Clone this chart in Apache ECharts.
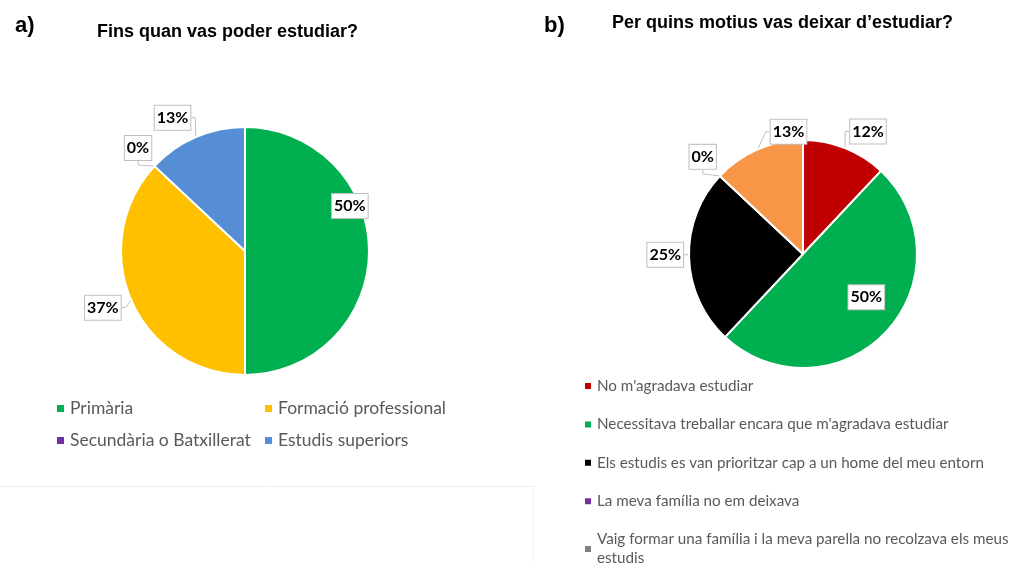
<!DOCTYPE html>
<html>
<head>
<meta charset="utf-8">
<script src="https://cdn.jsdelivr.net/npm/echarts@6/dist/echarts.min.js"></script>
<style>
html,body{margin:0;padding:0;background:#fff;}
#chart{width:1013px;height:563px;}
</style>
</head>
<body>
<div id="chart"></div>
<script>
// Chart a
const catsA = ['Primària', 'Formació professional', 'Secundària o Batxillerat', 'Estudis superiors'];
const valsA = [50, 37, 0, 13];
const colorsA = ['#00B050', '#FFC000', '#7030A0', '#558ED5'];
// Chart b
const catsB = ["No m'agradava estudiar", "Necessitava treballar encara que m'agradava estudiar", "Els estudis es van prioritzar cap a un home del meu entorn", "La meva família no em deixava", "Vaig formar una família i la meva parella no recolzava els meus estudis"];
const valsB = [12, 50, 25, 0, 13];
const colorsB = ['#C00000', '#00B050', '#000000', '#7030A0', '#F79646'];
const legendColorsB = ['#C00000', '#00B050', '#000000', '#7030A0', '#808080'];

// callout label nudges relative to the library's default label position (style only)
const nudges = [
  [[-52, -45], [4, 5], [10, -14], [6, -14]],
  [[-6, -11], [-51, -39], [4, -3], [6, -15], [60, -12]]
];
function layoutFor(si) {
  return function (p) {
    const n = nudges[si][p.dataIndex];
    const r = p.labelRect;
    return {
      x: r.x + r.width / 2 + n[0],
      y: r.y + r.height / 2 + n[1],
      align: 'center',
      verticalAlign: 'middle'
    };
  };
}

const labelStyle = {
  show: true,
  formatter: p => p.value + '%',
  fontFamily: 'Lato',
  fontWeight: 'bold',
  fontSize: 16,
  color: '#000',
  backgroundColor: '#fff',
  borderColor: '#bfbfbf',
  borderWidth: 1,
  padding: [5, 2, 3, 2]
};

const chart = echarts.init(document.getElementById('chart'));
chart.setOption({
  animation: false,
  title: [
    {text: 'a)', left: 10, top: 10, textStyle: {fontFamily: 'Liberation Sans', fontWeight: 'bold', fontSize: 22, color: '#000'}},
    {text: 'Fins quan vas poder estudiar?', left: 92, top: 18, textStyle: {fontFamily: 'Liberation Sans', fontWeight: 'bold', fontSize: 18, color: '#000'}},
    {text: 'b)', left: 539, top: 10, textStyle: {fontFamily: 'Liberation Sans', fontWeight: 'bold', fontSize: 22, color: '#000'}},
    {text: 'Per quins motius vas deixar d\u2019estudiar?', left: 607, top: 9, textStyle: {fontFamily: 'Liberation Sans', fontWeight: 'bold', fontSize: 18, color: '#000'}}
  ],
  legend: [
    {
      left: 50, top: 392, width: 420, orient: 'horizontal',
      itemWidth: 9, itemHeight: 9, itemGap: 9, icon: 'rect',
      data: catsA.map((c, i) => ({name: c, itemStyle: {color: colorsA[i]}})),
      textStyle: {fontFamily: 'Lato', fontSize: 17.5, color: '#595959', width: 184, overflow: 'truncate', lineHeight: 23},
      selectedMode: false
    },
    {
      left: 583, top: 376.5, height: 300, padding: 0, orient: 'vertical',
      itemWidth: 8, itemHeight: 8, itemGap: 19.4, icon: 'rect',
      data: catsB.map((c, i) => ({name: c, itemStyle: {color: legendColorsB[i]}})),
      formatter: n => n.replace(/ (estudis)$/, '\n$1'),
      textStyle: {fontFamily: 'Lato', fontSize: 15.2, color: '#595959', lineHeight: 19},
      selectedMode: false
    }
  ],
  series: [
    {
      type: 'pie', center: [245, 251], radius: 124, startAngle: 90, clockwise: true,
      itemStyle: {borderColor: '#fff', borderWidth: 2},
      label: Object.assign({position: 'outside'}, labelStyle),
      labelLine: {show: true, length: 6, length2: 4, lineStyle: {color: '#bfbfbf', width: 1}},
      labelLayout: layoutFor(0),
      data: catsA.map((c, i) => ({name: c, value: valsA[i], itemStyle: {color: colorsA[i]}}))
    },
    {
      type: 'pie', center: [803, 254], radius: 114, startAngle: 90, clockwise: true,
      itemStyle: {borderColor: '#fff', borderWidth: 2},
      label: Object.assign({position: 'outside'}, labelStyle),
      labelLine: {show: true, length: 6, length2: 4, lineStyle: {color: '#bfbfbf', width: 1}},
      labelLayout: layoutFor(1),
      data: catsB.map((c, i) => ({name: c, value: valsB[i], itemStyle: {color: colorsB[i]}}))
    }
  ],
  graphic: [
    {type: 'line', shape: {x1: 0, y1: 486.5, x2: 533, y2: 486.5}, style: {stroke: '#eeeeee', lineWidth: 1}},
    {type: 'line', shape: {x1: 533.5, y1: 486, x2: 533.5, y2: 563}, style: {stroke: '#f3f3f3', lineWidth: 1}}
  ]
});
</script>
</body>
</html>
